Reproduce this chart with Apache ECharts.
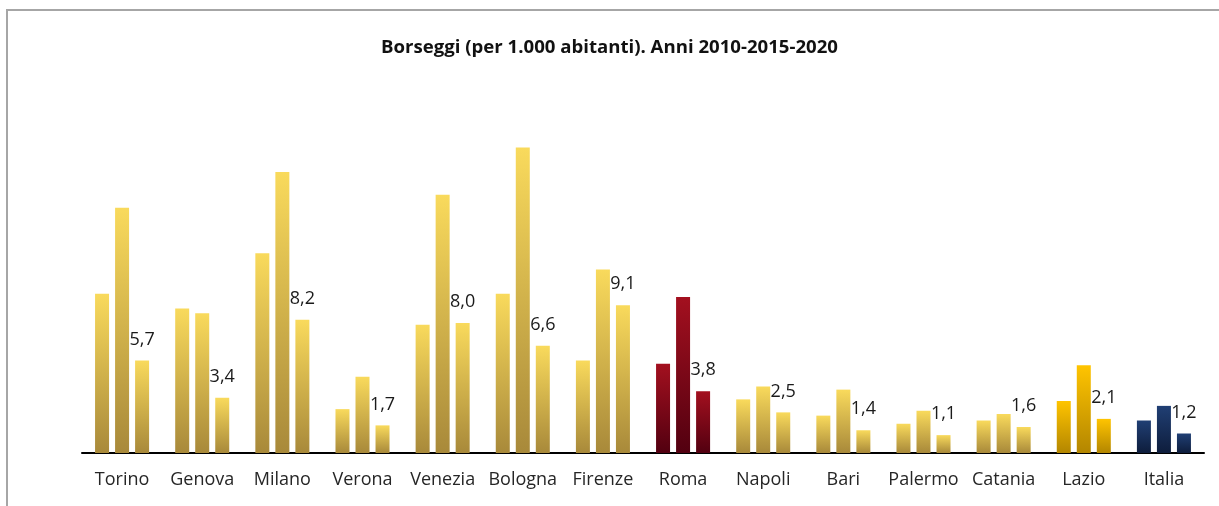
<!DOCTYPE html>
<html>
<head>
<meta charset="utf-8">
<script src="https://cdn.jsdelivr.net/npm/echarts@6/dist/echarts.min.js"></script>
<style>
html,body{margin:0;padding:0;background:#fff;}
#chart{width:1219px;height:506px;}
</style>
</head>
<body>
<div id="chart"></div>
<script>
var categories = ['Torino','Genova','Milano','Verona','Venezia','Bologna','Firenze','Roma','Napoli','Bari','Palermo','Catania','Lazio','Italia'];
var values2010 = [9.8, 8.9, 12.3, 2.7, 7.9, 9.8, 5.7, 5.5, 3.3, 2.3, 1.8, 2.0, 3.2, 2.0];
var values2015 = [15.1, 8.6, 17.3, 4.7, 15.9, 18.8, 11.3, 9.6, 4.1, 3.9, 2.6, 2.4, 5.4, 2.9];
var values2020 = [5.7, 3.4, 8.2, 1.7, 8.0, 6.6, 9.1, 3.8, 2.5, 1.4, 1.1, 1.6, 2.1, 1.2];
var seriesNames = ['2010','2015','2020'];
var titleText = 'Borseggi (per 1.000 abitanti). Anni 2010-2015-2020';

function grad(top, bottom){
  return new echarts.graphic.LinearGradient(0,0,0,1,[{offset:0,color:top},{offset:1,color:bottom}]);
}
var gold = grad('#F9DA5C','#A8893A');
var red = grad('#A3101F','#520010');
var orange = grad('#FFC400','#B38600');
var navy = grad('#203F74','#0E1D3C');
function colorFor(idx){
  var c = categories[idx];
  if(c==='Roma') return red;
  if(c==='Lazio') return orange;
  if(c==='Italia') return navy;
  return gold;
}
function mkData(arr){
  return arr.map(function(v,i){ return {value:v, itemStyle:{color:colorFor(i)}}; });
}
var all = [values2010, values2015, values2020];
var series = all.map(function(arr, k){
  return {
    name: seriesNames[k],
    type: 'bar',
    data: mkData(arr),
    barWidth: 14,
    barGap: '43%',
    animation: false,
    label: k===2 ? {
      show: true, position: 'top', distance: 12,
      fontFamily: 'Open Sans', fontSize: 18, color: '#1a1a1a',
      formatter: function(p){ return p.value.toFixed(1).replace('.', ','); }
    } : {show:false}
  };
});

var chart = echarts.init(document.getElementById('chart'), null, {renderer:'canvas'});
chart.setOption({
  animation: false,
  backgroundColor: '#ffffff',
  title: {
    text: titleText,
    left: 'center', top: 33,
    textStyle: {fontFamily:'Open Sans', fontWeight:'bold', fontSize:18.6, color:'#111'}
  },
  graphic: [{
    type:'rect', shape:{x:7, y:10, width:1300, height:600},
    style:{fill:null, stroke:'#a6a6a6', lineWidth:2}, silent:true
  }],
  grid: {left:82, right:15, top:128, bottom:53, containLabel:false},
  xAxis: {
    type:'category', data: categories,
    axisLine:{show:true, lineStyle:{color:'#000', width:2}},
    axisTick:{show:false},
    axisLabel:{fontFamily:'Open Sans', fontSize:18, color:'#262626', margin:18, interval:0}
  },
  yAxis: {
    type:'value', min:0, max:20, interval:5, show:false,
    splitLine:{show:false}
  },
  series: series
});
</script>
</body>
</html>
